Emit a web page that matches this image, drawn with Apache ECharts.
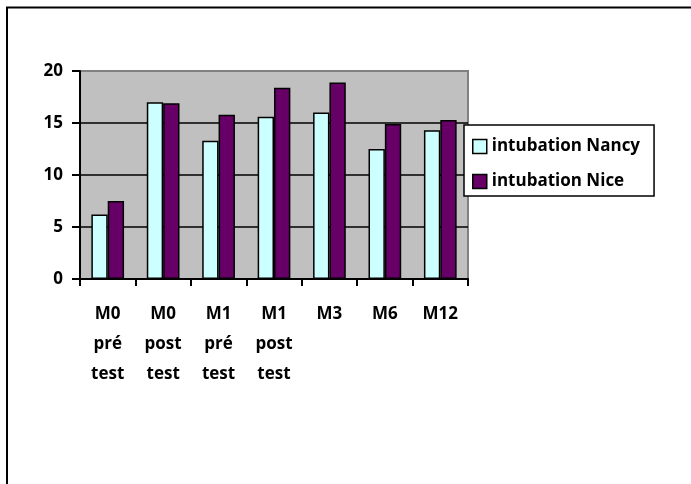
<!DOCTYPE html>
<html>
<head>
<meta charset="utf-8">
<script src="https://cdn.jsdelivr.net/npm/echarts@6/dist/echarts.min.js"></script>
<style>
html,body{margin:0;padding:0;background:#fff;}
#chart{width:691px;height:484px;}
</style>
</head>
<body>
<div id="chart"></div>
<script>
const categories = ["M0\npré\ntest", "M0\npost\ntest", "M1\npré\ntest", "M1\npost\ntest", "M3", "M6", "M12"];
const seriesNames = ["intubation Nancy", "intubation Nice"];
const nancyValues = [6.2, 17.0, 13.3, 15.6, 16.0, 12.5, 14.3];
const niceValues = [7.5, 16.9, 15.8, 18.4, 18.9, 14.9, 15.3];
const yTicks = [0, 5, 10, 15, 20];

const FONT = '"Open Sans"';
const FS = 17;
const chart = echarts.init(document.getElementById('chart'), null, {renderer: 'canvas'});
chart.setOption({
  animation: false,
  backgroundColor: '#ffffff',
  textStyle: {fontFamily: FONT},
  graphic: [{
    type: 'rect',
    shape: {x: 7, y: 7.5, width: 720, height: 520},
    style: {fill: 'none', stroke: '#000', lineWidth: 2},
    z: 100
  }],
  grid: {
    left: 80, top: 71, right: 223, bottom: 205,
    show: true,
    backgroundColor: '#C0C0C0',
    borderColor: '#808080',
    borderWidth: 2
  },
  legend: {
    orient: 'vertical',
    left: 464, top: 125,
    padding: [13, 14, 6, 8],
    itemGap: 18,
    itemWidth: 14, itemHeight: 14,
    backgroundColor: '#ffffff',
    borderColor: '#000',
    borderWidth: 1.5,
    borderRadius: 0,
    icon: 'rect',
    itemStyle: {borderColor: '#000', borderWidth: 1.5},
    textStyle: {fontFamily: FONT, fontWeight: 'bold', fontSize: FS, color: '#000'},
    data: seriesNames
  },
  xAxis: {
    type: 'category',
    data: categories,
    boundaryGap: true,
    axisLine: {lineStyle: {color: '#000', width: 2}},
    axisTick: {show: true, length: 7, lineStyle: {color: '#000', width: 2}},
    axisLabel: {
      interval: 0,
      margin: 20,
      fontFamily: FONT, fontWeight: 'bold', fontSize: FS, color: '#000',
      lineHeight: 30
    },
    splitLine: {show: false}
  },
  yAxis: {
    type: 'value',
    min: yTicks[0], max: yTicks[yTicks.length - 1], interval: 5,
    axisLine: {show: true, lineStyle: {color: '#000', width: 2}},
    axisTick: {show: true, length: 8, lineStyle: {color: '#000', width: 2}},
    axisLabel: {margin: 17, fontFamily: FONT, fontWeight: 'bold', fontSize: FS, color: '#000'},
    splitLine: {show: true, lineStyle: {color: ['#000', '#000', '#000', '#000', '#808080'], width: 1.5}}
  },
  series: [
    {
      name: seriesNames[0], type: 'bar', data: nancyValues,
      barGap: '0%', barCategoryGap: '41%',
      itemStyle: {color: '#CCFFFF', borderColor: '#000', borderWidth: 1.5}
    },
    {
      name: seriesNames[1], type: 'bar', data: niceValues,
      barGap: '0%', barCategoryGap: '41%',
      itemStyle: {color: '#660066', borderColor: '#000', borderWidth: 1.5}
    }
  ]
});
</script>
</body>
</html>
